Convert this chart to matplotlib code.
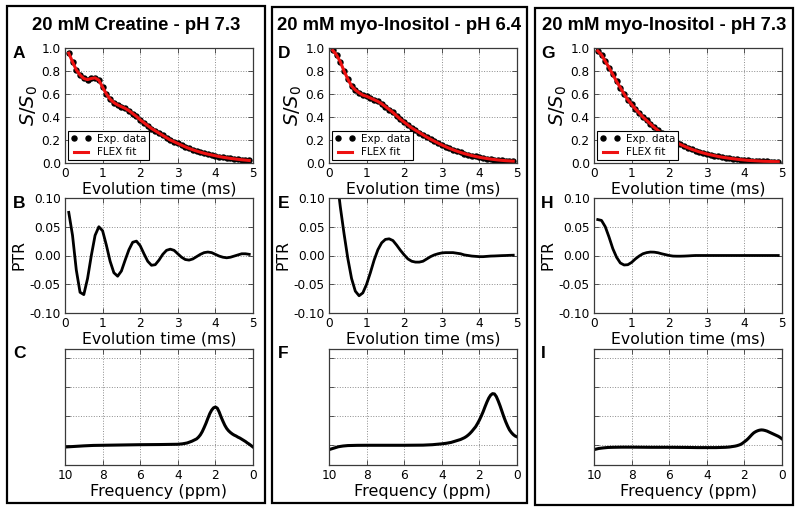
import matplotlib
matplotlib.use("Agg")
import matplotlib.pyplot as plt
from matplotlib.patches import Rectangle

# ---------------- data ----------------
titles = ["20 mM Creatine - pH 7.3", "20 mM myo-Inositol - pH 6.4", "20 mM myo-Inositol - pH 7.3"]
letters = [["A", "B", "C"], ["D", "E", "F"], ["G", "H", "I"]]

time_ms = [0.1, 0.2, 0.3, 0.4, 0.5, 0.6, 0.7, 0.8, 0.9, 1.0,
           1.1, 1.2, 1.3, 1.4, 1.5, 1.6, 1.7, 1.8, 1.9, 2.0,
           2.1, 2.2, 2.3, 2.4, 2.5, 2.6, 2.7, 2.8, 2.9, 3.0,
           3.1, 3.2, 3.3, 3.4, 3.5, 3.6, 3.7, 3.8, 3.9, 4.0,
           4.1, 4.2, 4.3, 4.4, 4.5, 4.6, 4.7, 4.8, 4.9]

signal_A = [0.955, 0.88, 0.81, 0.765, 0.735, 0.725, 0.735, 0.74, 0.72, 0.66,
            0.60, 0.555, 0.525, 0.505, 0.49, 0.475, 0.455, 0.43, 0.405, 0.375,
            0.35, 0.325, 0.30, 0.28, 0.26, 0.24, 0.22, 0.20, 0.185, 0.17,
            0.155, 0.14, 0.127, 0.115, 0.104, 0.094, 0.085, 0.077, 0.07, 0.063,
            0.056, 0.05, 0.045, 0.04, 0.036, 0.032, 0.028, 0.025, 0.022]
signal_D = [0.98, 0.94, 0.88, 0.80, 0.73, 0.67, 0.635, 0.61, 0.59, 0.58,
            0.565, 0.55, 0.535, 0.515, 0.49, 0.465, 0.44, 0.41, 0.38, 0.355,
            0.33, 0.305, 0.285, 0.265, 0.245, 0.225, 0.207, 0.19, 0.173, 0.157,
            0.142, 0.128, 0.115, 0.103, 0.092, 0.082, 0.073, 0.064, 0.057, 0.050,
            0.044, 0.039, 0.034, 0.030, 0.026, 0.023, 0.020, 0.018, 0.016]
signal_G = [0.975, 0.94, 0.885, 0.83, 0.77, 0.71, 0.655, 0.60, 0.55, 0.51,
            0.47, 0.435, 0.40, 0.37, 0.34, 0.31, 0.283, 0.258, 0.235, 0.214,
            0.195, 0.177, 0.161, 0.146, 0.132, 0.119, 0.108, 0.097, 0.088, 0.079,
            0.071, 0.064, 0.057, 0.051, 0.046, 0.041, 0.037, 0.033, 0.029, 0.026,
            0.023, 0.021, 0.019, 0.017, 0.015, 0.014, 0.013, 0.012, 0.011]

ptr_B = [0.075, 0.035, -0.025, -0.064, -0.068, -0.040, 0.000, 0.035, 0.050, 0.043,
         0.018, -0.010, -0.030, -0.036, -0.027, -0.008, 0.010, 0.023, 0.025, 0.017,
         0.003, -0.010, -0.017, -0.016, -0.008, 0.002, 0.009, 0.011, 0.009, 0.003,
         -0.003, -0.007, -0.008, -0.006, -0.002, 0.002, 0.005, 0.006, 0.005, 0.002,
         -0.001, -0.003, -0.004, -0.003, -0.001, 0.001, 0.003, 0.003, 0.002]
ptr_E = [0.20, 0.14, 0.085, 0.038, -0.005, -0.040, -0.062, -0.070, -0.065, -0.050,
         -0.030, -0.008, 0.010, 0.022, 0.028, 0.029, 0.026, 0.018, 0.009, 0.001,
         -0.006, -0.010, -0.0115, -0.0115, -0.010, -0.006, -0.002, 0.001, 0.003, 0.0045,
         0.005, 0.005, 0.005, 0.004, 0.003, 0.001, 0.000, -0.001, -0.0015, -0.002,
         -0.002, -0.0015, -0.001, -0.0008, -0.0005, -0.0002, 0.000, 0.0003, 0.0005]
ptr_H = [0.0625, 0.061, 0.050, 0.032, 0.012, -0.003, -0.013, -0.0165, -0.016, -0.012,
         -0.006, -0.001, 0.003, 0.005, 0.006, 0.0058, 0.0048, 0.003, 0.0015, 0.000,
         -0.001, -0.0012, -0.0012, -0.001, -0.0007, -0.0003, 0.0, 0.0, 0.0, 0.0,
         0.0, 0.0, 0.0, 0.0, 0.0, 0.0, 0.0, 0.0, 0.0, 0.0,
         0.0, 0.0, 0.0, 0.0, 0.0, 0.0, 0.0, 0.0, 0.0]

freq_ppm = [10, 9.75, 9.5, 9.25, 9, 8.5, 8, 7, 6, 5, 4.5, 4, 3.75, 3.5, 3.25,
            3.0, 2.9, 2.8, 2.7, 2.6, 2.5, 2.4, 2.3, 2.2, 2.1,
            2.0, 1.9, 1.8, 1.7, 1.6, 1.5, 1.4, 1.3, 1.2, 1.1,
            1.0, 0.9, 0.8, 0.7, 0.6, 0.5, 0.4, 0.3, 0.2, 0.1, 0.0]
spec_C = [-0.07, -0.06, -0.05, -0.04, -0.03, -0.015, -0.01, 0.0, 0.01, 0.015, 0.02, 0.025, 0.04, 0.07, 0.13,
          0.21, 0.27, 0.35, 0.46, 0.60, 0.75, 0.92, 1.08, 1.20, 1.28,
          1.31, 1.27, 1.14, 0.97, 0.82, 0.68, 0.57, 0.49, 0.43, 0.38,
          0.34, 0.31, 0.27, 0.24, 0.20, 0.16, 0.12, 0.07, 0.03, -0.02, -0.07]
spec_F = [-0.16, -0.11, -0.06, -0.035, -0.02, -0.012, -0.01, -0.01, -0.01, -0.005, 0.01, 0.04, 0.06, 0.09, 0.14,
          0.19, 0.22, 0.25, 0.29, 0.34, 0.40, 0.47, 0.55, 0.63, 0.74,
          0.86, 1.00, 1.15, 1.32, 1.48, 1.62, 1.72, 1.77, 1.76, 1.67,
          1.52, 1.35, 1.16, 0.97, 0.80, 0.65, 0.52, 0.43, 0.36, 0.31, 0.28]
spec_I = [-0.16, -0.12, -0.10, -0.085, -0.08, -0.075, -0.075, -0.08, -0.08, -0.085, -0.09, -0.09, -0.09, -0.09, -0.085,
          -0.08, -0.075, -0.07, -0.06, -0.05, -0.04, -0.025, -0.005, 0.02, 0.06,
          0.11, 0.16, 0.22, 0.29, 0.36, 0.42, 0.46, 0.49, 0.51, 0.52,
          0.515, 0.50, 0.48, 0.45, 0.42, 0.39, 0.36, 0.33, 0.30, 0.26, 0.21]

signals = [signal_A, signal_D, signal_G]
ptrs = [ptr_B, ptr_E, ptr_H]
spectra = [spec_C, spec_F, spec_I]

time_ticks = [0, 1, 2, 3, 4, 5]
s_ticks = [0.0, 0.2, 0.4, 0.6, 0.8, 1.0]
ptr_ticks = [-0.10, -0.05, 0.00, 0.05, 0.10]
freq_ticks = [10, 8, 6, 4, 2, 0]
spec_grid = [0, 1, 2, 3]

# ---------------- figure ----------------
W, H = 800, 512
fig = plt.figure(figsize=(8.0, 5.12), dpi=100)

def fx(px):
    return px / W

def fy(py):
    return 1 - py / H

col_left = [65, 329, 594]
ax_w = 188
rows = [(48, 163), (198, 313), (349, 465)]
box_x = [(7, 265), (272, 527), (535, 793)]
box_y = [(6, 503), (7, 503), (8, 505)]

grid_kw = dict(color="0.55", linestyle=":", linewidth=0.7)
spine_col = "#3a3a3a"

def style(ax):
    for s in ax.spines.values():
        s.set_color(spine_col)
        s.set_linewidth(0.9)
    ax.tick_params(direction="in", top=True, right=True, length=3.5, width=0.6,
                   labelsize=8.7, colors=spine_col, labelcolor="black", pad=3)
    ax.grid(True, **grid_kw)
    ax.set_axisbelow(True)

for c in range(3):
    # box
    x0, x1 = box_x[c]
    y0, y1 = box_y[c]
    fig.patches.append(Rectangle((fx(x0), fy(y1)), fx(x1) - fx(x0), fy(y0) - fy(y1),
                                 transform=fig.transFigure, fill=False,
                                 edgecolor="black", linewidth=1.6))
    fig.text(fx((x0 + x1) / 2), fy(25), titles[c], ha="center", va="center",
             fontsize=13.3, fontweight="heavy", family="Liberation Sans")

    axes = []
    for r in range(3):
        top, bot = rows[r]
        ax = fig.add_axes([fx(col_left[c]), fy(bot), fx(ax_w), (bot - top) / H])
        style(ax)
        axes.append(ax)

    # row 1: S/S0
    ax = axes[0]
    ax.plot(time_ms, signals[c], linestyle="none", marker="o", markersize=3.6,
            color="black", label="Exp. data")
    ax.plot(time_ms, signals[c], color="#ee1111", linewidth=2.2, label="FLEX fit")
    ax.set_xlim(0, 5)
    ax.set_ylim(0, 1)
    ax.set_xticks(time_ticks)
    ax.set_yticks(s_ticks)
    ax.set_yticklabels(["%.1f" % v for v in s_ticks])
    ax.set_xlabel("Evolution time (ms)", fontsize=11.3, labelpad=1)
    ax.set_ylabel("$S/S_0$", fontsize=14, labelpad=1)
    leg = ax.legend(loc="lower left", fontsize=7.5, numpoints=2, fancybox=False,
                    framealpha=1, edgecolor="black", borderpad=0.3,
                    handlelength=2.0, handletextpad=0.5, labelspacing=0.3,
                    borderaxespad=0.25)
    leg.get_frame().set_linewidth(0.8)

    # row 2: PTR
    ax = axes[1]
    ax.plot(time_ms, ptrs[c], color="black", linewidth=2.0)
    ax.set_xlim(0, 5)
    ax.set_ylim(-0.1, 0.1)
    ax.set_xticks(time_ticks)
    ax.set_yticks(ptr_ticks)
    ax.set_yticklabels(["%.2f" % v if v != 0 else "0.00" for v in ptr_ticks])
    ax.set_xlabel("Evolution time (ms)", fontsize=11.3, labelpad=1)
    ax.set_ylabel("PTR", fontsize=11.3, labelpad=2)

    # row 3: spectrum
    ax = axes[2]
    ax.plot(freq_ppm, spectra[c], color="black", linewidth=2.2)
    ax.set_xlim(10, 0)
    ax.set_ylim(-0.69, 3.31)
    ax.set_xticks(freq_ticks)
    ax.set_yticks(spec_grid)
    ax.set_yticklabels([])
    ax.set_xlabel("Frequency (ppm)", fontsize=11.5, labelpad=1)

    # panel letters
    for r in range(3):
        top, bot = rows[r]
        fig.text(fx(x0 + 6), fy(top + 5), letters[c][r], ha="left", va="center",
                 fontsize=12.5, fontweight="heavy", family="Liberation Sans")

fig.savefig("out.png", dpi=100)
